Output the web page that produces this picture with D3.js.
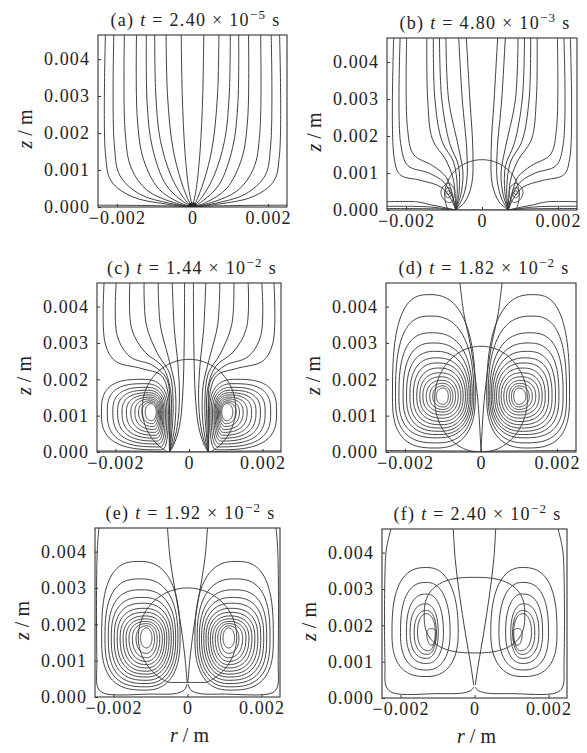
<!DOCTYPE html>
<html>
<head>
<meta charset="utf-8">
<script src="https://cdn.jsdelivr.net/npm/d3@7"></script>
<style>
  body { margin: 0; background: #fff; }
  svg text { font-family: "Liberation Serif", "Times New Roman", serif; fill: #222; }
</style>
</head>
<body>
<svg id="chart" width="587" height="753"></svg>
<script>
// all lengths in mm, tick labels shown in m
const panelIds = ["a", "b", "c", "d", "e", "f"];
const timeMantissa = ["2.40", "4.80", "1.44", "1.82", "1.92", "2.40"];
const timeExponent = ["\u22125", "\u22123", "\u22122", "\u22122", "\u22122", "\u22122"];
const xTicks = [-2, 0, 2];
const yTicks = [0, 1, 2, 3, 4];
const rMax = 2.5, zMax = 4.65;

// open streamlines, right half only [r, z] (mirrored to the left)
const openA = [
  [[0.30,4.8],[0.27,3.0],[0.20,1.5],[0.10,0.5],[0,0]],
  [[0.70,4.8],[0.66,3.0],[0.52,1.6],[0.30,0.7],[0.08,0.12],[0,0]],
  [[1.00,4.8],[0.97,3.0],[0.85,1.8],[0.55,0.8],[0.20,0.2],[0,0]],
  [[1.22,4.8],[1.20,2.8],[1.06,1.6],[0.70,0.6],[0.25,0.15],[0,0]],
  [[1.48,4.8],[1.46,2.4],[1.30,1.3],[0.90,0.5],[0.35,0.12],[0,0]],
  [[1.80,4.8],[1.78,2.0],[1.62,1.05],[1.20,0.45],[0.50,0.12],[0,0]],
  [[2.08,4.8],[2.07,1.7],[1.92,0.85],[1.40,0.35],[0.60,0.10],[0,0]],
  [[2.30,4.8],[2.30,1.4],[2.15,0.70],[1.60,0.28],[0.70,0.08],[0,0]],
  [[2.60,0.05],[1.20,0.04],[0.30,0.02],[0,0]]
];
const openB = [
  [[0.42,4.8],[0.32,3.0],[0.24,1.6],[0.27,0.7],[0.45,0.22],[0.69,0]],
  [[0.62,4.8],[0.52,3.0],[0.40,1.6],[0.40,0.8],[0.52,0.3],[0.69,0]],
  [[0.95,4.8],[0.88,3.0],[0.62,1.7],[0.50,1.0],[0.56,0.4],[0.69,0]],
  [[1.12,4.8],[1.06,3.0],[0.85,1.8],[0.62,1.2],[0.60,0.5],[0.69,0]],
  [[1.28,4.8],[1.24,3.0],[1.05,1.85],[0.75,1.3],[0.65,0.6],[0.69,0]],
  [[1.45,4.8],[1.43,3.0],[1.30,1.9],[0.95,1.35],[0.75,0.8],[0.69,0]],
  [[1.98,4.8],[1.96,2.2],[1.80,1.5],[1.30,1.2],[0.95,0.9],[0.80,0.5],[0.69,0]],
  [[2.15,4.8],[2.14,1.8],[1.95,1.2],[1.40,1.0],[1.00,0.75],[0.78,0.35],[0.69,0]],
  [[2.32,4.8],[2.31,1.4],[2.15,0.95],[1.60,0.8],[1.08,0.62],[0.82,0.3],[0.69,0]],
  [[2.60,0.22],[1.70,0.22],[1.35,0.14],[1.00,0.07],[0.69,0]],
  [[2.60,0.10],[1.50,0.09],[1.00,0.04],[0.69,0]],
  [[2.60,0.04],[1.20,0.03],[0.69,0]]
];
const openC = [
  [[0.12,4.8],[0.13,3.0],[0.17,1.6],[0.26,0.7],[0.42,0.18],[0.53,0]],
  [[0.46,4.8],[0.40,3.4],[0.30,2.4],[0.26,1.5],[0.32,0.7],[0.45,0.18],[0.53,0]],
  [[0.84,4.8],[0.78,3.5],[0.56,2.6],[0.38,1.8],[0.37,0.9],[0.47,0.22],[0.53,0]],
  [[1.22,4.8],[1.16,3.5],[0.85,2.7],[0.52,2.15],[0.43,1.3],[0.48,0.4],[0.53,0]],
  [[1.60,4.8],[1.56,3.4],[1.20,2.75],[0.72,2.35],[0.50,1.7],[0.49,0.7],[0.53,0]],
  [[1.97,4.8],[1.95,3.2],[1.60,2.62],[0.98,2.38],[0.60,2.0],[0.52,1.2],[0.53,0.4],[0.53,0]],
  [[2.30,4.8],[2.28,3.0],[2.00,2.5],[1.30,2.3],[0.75,2.1],[0.55,1.5],[0.54,0.6],[0.53,0]],
  [[2.60,0.03],[1.00,0.02],[0.53,0]]
];
const openD = [
  [[0.57,4.8],[0.45,3.8],[0.27,2.9],[0.10,1.6],[0.04,0.8],[0,0]],
  [[2.60,0.04],[1.00,0.03],[0.20,0.02],[0,0]]
];
const openE = [
  [[0.55,4.8],[0.47,3.8],[0.33,2.9],[0.17,1.9],[0.06,1.0],[0.01,0.4]],
  [[2.38,4.8],[2.44,4.0],[2.45,1.0],[2.42,0.25],[2.25,0.10],[1.00,0.08],[0.30,0.10],[0.08,0.2],[0.02,0.35]]
];
const openF = [
  [[0.58,4.8],[0.52,3.8],[0.40,2.8],[0.25,1.8],[0.10,0.9],[0.02,0.35]],
  [[2.22,4.8],[2.38,4.1],[2.42,3.4],[2.42,1.0],[2.38,0.3],[2.20,0.14],[1.00,0.12],[0.30,0.14],[0.08,0.22],[0.02,0.3]]
];

// closed vortex loops, right half: [inner r, outer r, bottom z, top z, r of top, r of bottom]
const loopsB = [
  [0.72, 1.08, 0.20, 0.72, 0.88, 0.85],
  [0.80, 0.98, 0.33, 0.60, 0.89, 0.89],
  [0.84, 0.93, 0.42, 0.52, 0.885, 0.885]
];
const loopsC = [
  [0.56, 2.38, 0.06, 2.00, 1.25, 0.75],
  [0.60, 2.22, 0.14, 1.88, 1.20, 0.80],
  [0.64, 2.07, 0.22, 1.78, 1.16, 0.84],
  [0.68, 1.94, 0.30, 1.70, 1.13, 0.87],
  [0.71, 1.82, 0.38, 1.63, 1.10, 0.90],
  [0.74, 1.70, 0.46, 1.57, 1.08, 0.92],
  [0.77, 1.58, 0.54, 1.51, 1.06, 0.94],
  [0.80, 1.47, 0.62, 1.46, 1.05, 0.96],
  [0.83, 1.37, 0.70, 1.41, 1.04, 0.98],
  [0.86, 1.28, 0.78, 1.37, 1.03, 1.00],
  [0.89, 1.19, 0.86, 1.33, 1.03, 1.02]
];
const loopsD = [
  [0.15, 2.33, 0.11, 4.33, 1.35, 1.20],
  [0.19, 2.25, 0.25, 3.74, 1.32, 1.17],
  [0.23, 2.16, 0.39, 3.28, 1.28, 1.14],
  [0.27, 2.05, 0.48, 3.00, 1.24, 1.11],
  [0.31, 1.96, 0.57, 2.77, 1.20, 1.09],
  [0.36, 1.87, 0.66, 2.59, 1.16, 1.07],
  [0.41, 1.78, 0.75, 2.45, 1.13, 1.05],
  [0.47, 1.69, 0.84, 2.31, 1.10, 1.03],
  [0.53, 1.61, 0.93, 2.18, 1.07, 1.02],
  [0.60, 1.53, 1.02, 2.07, 1.05, 1.01],
  [0.67, 1.44, 1.10, 1.97, 1.03, 1.00],
  [0.74, 1.35, 1.17, 1.89, 1.01, 0.99],
  [0.80, 1.27, 1.24, 1.82, 1.00, 0.99],
  [0.86, 1.18, 1.31, 1.76, 0.99, 0.99]
];
const loopsE = [
  [0.20, 2.32, 0.19, 3.73, 1.30, 1.15],
  [0.26, 2.23, 0.28, 3.25, 1.27, 1.14],
  [0.32, 2.14, 0.37, 2.95, 1.24, 1.13],
  [0.38, 2.06, 0.46, 2.74, 1.21, 1.12],
  [0.44, 1.98, 0.55, 2.58, 1.19, 1.12],
  [0.50, 1.90, 0.63, 2.44, 1.17, 1.11],
  [0.56, 1.82, 0.71, 2.33, 1.15, 1.11],
  [0.62, 1.74, 0.80, 2.23, 1.14, 1.11],
  [0.68, 1.66, 0.89, 2.15, 1.13, 1.11],
  [0.75, 1.58, 0.98, 2.08, 1.12, 1.11],
  [0.82, 1.49, 1.08, 2.02, 1.11, 1.11],
  [0.89, 1.39, 1.20, 1.96, 1.11, 1.11],
  [0.96, 1.27, 1.35, 1.90, 1.11, 1.11]
];
const loopsF = [
  [0.44, 2.23, 0.59, 3.59, 1.30, 1.30],
  [0.66, 2.00, 0.77, 3.18, 1.30, 1.30],
  [0.84, 1.84, 0.95, 2.86, 1.30, 1.30],
  [0.98, 1.74, 1.09, 2.59, 1.32, 1.30],
  [1.03, 1.63, 1.20, 2.41, 1.30, 1.28],
  [1.06, 1.54, 1.30, 2.32, 1.30, 1.25],
  [1.04, 1.29, 1.45, 1.91, 1.16, 1.16]
];
// height of each panel's vortex centre
const vortexZ = [null, 0.47, 1.10, 1.53, 1.62, 1.80];

// droplet outline: [half width, centre z, half height, flat base z]
const dropB = [0.98, 0.40, 0.96, 0];
const dropC = [1.27, 1.20, 1.35, 0];
const dropD = [1.22, 1.45, 1.46, 0];
const dropE = [1.33, 1.65, 1.35, 0.40];
const dropF = [1.36, 2.28, 1.04, 1.24];

// ---- layout (page pixels) ----
const frames = [
  {x: 98,  y: 35,  w: 189, h: 172},
  {x: 387, y: 38,  w: 190, h: 172},
  {x: 97,  y: 283, w: 184, h: 169},
  {x: 386, y: 283, w: 190, h: 169},
  {x: 95,  y: 528, w: 185, h: 169},
  {x: 382, y: 529, w: 185, h: 169}
];
// loop squareness: [outermost, innermost]
const squareness = [null, [1.8, 2], [2.9, 2.1], [2.8, 2.1], [2.8, 2.1], [2.6, 2.1]];
const dropSquare = [null, 2, 2, 2, 2, 2.6];

const panels = panelIds.map((id, i) => ({
  id,
  open: [openA, openB, openC, openD, openE, openF][i],
  loops: [[], loopsB, loopsC, loopsD, loopsE, loopsF][i],
  drop: [null, dropB, dropC, dropD, dropE, dropF][i],
  cz: vortexZ[i]
}));

const svg = d3.select("#chart");
svg.append("rect").attr("width", 587).attr("height", 753).attr("fill", "#fff");

const STROKE = "#383838";
const mirror = pts => pts.map(p => [-p[0], p[1]]);
const fmtX = d => d === 0 ? "0" : (d / 1000).toFixed(3).replace("-", "\u2212");
const fmtY = d => (d / 1000).toFixed(3);

// quadrant-wise superellipse through the four extreme points
function loopPoints(L, cz, nRight, nLeft) {
  const [inn, out, bot, top, tx, sx] = L;
  const pts = [];
  const N = 120;
  for (let k = 0; k < N; k++) {
    const t = k / N * 2 * Math.PI;
    const c = Math.cos(t), s = Math.sin(t);
    const up = s >= 0, right = c >= 0;
    const x0 = up ? tx : sx;
    const n = right ? nRight : nLeft;
    const dx = right ? out - x0 : x0 - inn;
    const dz = up ? top - cz : cz - bot;
    pts.push([x0 + Math.sign(c) * dx * Math.pow(Math.abs(c), 2 / n),
              cz + Math.sign(s) * dz * Math.pow(Math.abs(s), 2 / n)]);
  }
  return pts;
}

function dropPoints(D, n) {
  const [a, cz, b, base] = D;
  const pts = [];
  const N = 160;
  for (let k = 0; k < N; k++) {
    const t = k / N * 2 * Math.PI;
    const c = Math.cos(t), s = Math.sin(t);
    const z = cz + Math.sign(s) * b * Math.pow(Math.abs(s), 2 / n);
    pts.push([Math.sign(c) * a * Math.pow(Math.abs(c), 2 / n), Math.max(z, base)]);
  }
  return pts;
}

panels.forEach((p, i) => {
  const f = frames[i];
  const x = d3.scaleLinear().domain([-rMax, rMax]).range([0, f.w]);
  const y = d3.scaleLinear().domain([0, zMax]).range([f.h, 0]);
  const g = svg.append("g").attr("transform", `translate(${f.x},${f.y})`);

  g.append("clipPath").attr("id", "clip-" + p.id)
    .append("rect").attr("width", f.w).attr("height", f.h);

  const plot = g.append("g").attr("clip-path", `url(#clip-${p.id})`)
    .attr("fill", "none").attr("stroke", STROKE).attr("stroke-width", 0.95)
    .attr("stroke-linejoin", "round");

  const openLine = d3.line().x(d => x(d[0])).y(d => y(d[1]))
    .curve(d3.curveCatmullRom.alpha(0.5));
  const closedLine = d3.line().x(d => x(d[0])).y(d => y(d[1]))
    .curve(d3.curveLinearClosed);

  // open streamlines
  p.open.forEach(pts => {
    plot.append("path").attr("d", openLine(pts));
    plot.append("path").attr("d", openLine(mirror(pts)));
  });

  // vortex loops
  const nL = p.loops.length;
  p.loops.forEach((L, j) => {
    const sq = squareness[i];
    const frac = nL > 1 ? 1 - j / (nL - 1) : 0;
    const nR = sq[1] + (sq[0] - sq[1]) * frac;
    const nLft = 2 + (nR - 2) * 0.6;
    const pts = loopPoints(L, p.cz, nR, nLft);
    plot.append("path").attr("d", closedLine(pts));
    plot.append("path").attr("d", closedLine(mirror(pts)));
  });

  // droplet outline
  if (p.drop) {
    plot.append("path").attr("d", closedLine(dropPoints(p.drop, dropSquare[i])));
  }

  // dense sink at the origin in (a)
  if (p.id === "a") {
    plot.append("ellipse").attr("cx", x(0)).attr("cy", y(0))
      .attr("rx", x(0.13) - x(0)).attr("ry", y(0) - y(0.12))
      .attr("fill", "#222").attr("stroke", "none");
  }

  // axes
  const ax = g.append("g").attr("transform", `translate(0,${f.h})`)
    .call(d3.axisBottom(x).tickValues(xTicks).tickSize(-3).tickPadding(3).tickFormat(fmtX));
  const ay = g.append("g")
    .call(d3.axisLeft(y).tickValues(yTicks).tickSize(-3).tickPadding(8).tickFormat(fmtY));
  [ax, ay].forEach(a => {
    a.select(".domain").remove();
    a.selectAll("line").attr("stroke", STROKE);
    a.selectAll("text").attr("font-family", "Liberation Serif, serif")
      .attr("font-size", 18).attr("letter-spacing", 1.1).attr("fill", "#222");
  });
  ax.selectAll("text").attr("dy", "0.78em");

  g.append("rect").attr("width", f.w).attr("height", f.h)
    .attr("fill", "none").attr("stroke", "#333").attr("stroke-width", 1.1);

  // title
  const t = g.append("text").attr("x", f.w / 2 + 3).attr("y", -9)
    .attr("text-anchor", "middle").attr("font-size", 18).attr("letter-spacing", 1.3);
  t.append("tspan").text(`(${p.id}) `);
  t.append("tspan").attr("font-style", "italic").text("t");
  t.append("tspan").text(` = ${timeMantissa[i]} \u00d7 10`);
  t.append("tspan").attr("dy", -7).attr("font-size", 13).text(timeExponent[i]);
  t.append("tspan").attr("dy", 7).text(" s");

  // z / m label
  const zl = g.append("text")
    .attr("transform", `translate(-66,${f.h / 2 + 8}) rotate(-90)`)
    .attr("text-anchor", "middle").attr("font-size", 20);
  zl.append("tspan").attr("font-style", "italic").text("z");
  zl.append("tspan").text(" / m");

  // r / m label on the bottom row
  if (i >= 4) {
    const rl = g.append("text").attr("x", f.w / 2 + 2).attr("y", f.h + 45)
      .attr("text-anchor", "middle").attr("font-size", 20);
    rl.append("tspan").attr("font-style", "italic").text("r");
    rl.append("tspan").text(" / m");
  }
});
</script>
</body>
</html>
